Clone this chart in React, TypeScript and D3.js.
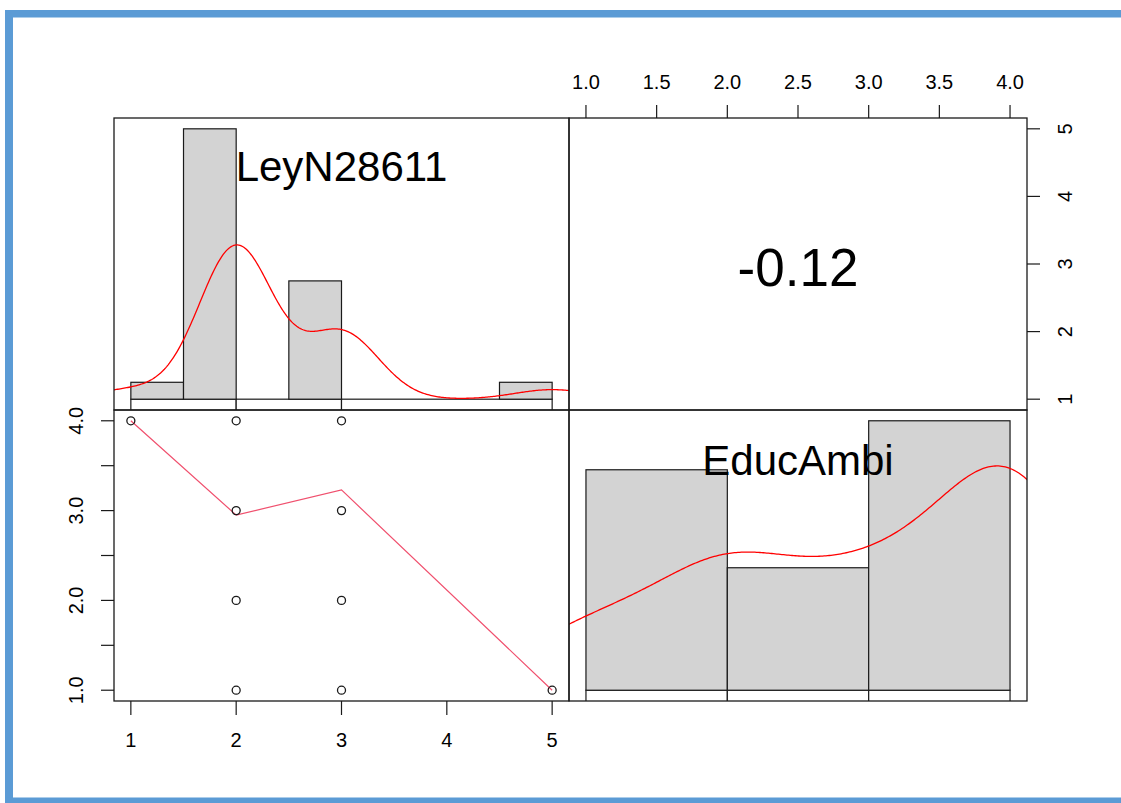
import React from "react";
import * as d3 from "d3";

// ---- data ----
const varNames = ["LeyN28611", "EducAmbi"];
const leyValues = [1, 2, 3, 5];
const leyCounts = [1, 16, 7, 1];
const educValues = [1, 2, 3, 4];
const educCounts = [3, 6, 5, 11];
const leyBreaks = [1, 1.5, 2, 2.5, 3, 3.5, 4, 4.5, 5];
const educBreaks = [1, 2, 3, 4];
const leyStripBreaks = [1, 2, 3, 5];
const educStripBreaks = [1, 2, 3, 4];
const scatterX = [1, 2, 3, 2, 3, 2, 3, 2, 3, 5];
const scatterY = [4, 4, 4, 3, 3, 2, 2, 1, 1, 1];
const smoothX = [1, 2, 3, 5];
const smoothY = [4.0, 2.95, 3.23, 1.0];
const corrLabel = "-0.12";
const leyTicks = [1, 2, 3, 4, 5];
const educTicks = [1, 1.5, 2, 2.5, 3, 3.5, 4];
const educLabelTicks = [1, 2, 3, 4];

// ---- layout ----
const W = 1121, H = 803;
const C1 = [114, 569], C2 = [569, 1027];
const R1 = [118, 410], R2 = [410, 701];
const FONT = "Liberation Sans, Arial, Helvetica, sans-serif";
const INK = "#1a1a1a";

function expand(vals: number[], counts: number[]) {
  const out: number[] = [];
  vals.forEach((v, i) => { for (let k = 0; k < counts[i]; k++) out.push(v); });
  return out;
}
function ext(lo: number, hi: number) {
  const d = (hi - lo) * 0.04;
  return [lo - d, hi + d];
}
function histo(obs: number[], breaks: number[]) {
  const n = obs.length;
  const res = [] as { x0: number; x1: number; dens: number }[];
  for (let i = 0; i < breaks.length - 1; i++) {
    const a = breaks[i], b = breaks[i + 1];
    const c = obs.filter(v => (i === 0 ? v >= a : v > a) && v <= b).length;
    res.push({ x0: a, x1: b, dens: c / (n * (b - a)) });
  }
  return res;
}
function kde(obs: number[]) {
  const n = obs.length;
  const sd = d3.deviation(obs) as number;
  const sorted = obs.slice().sort((a, b) => a - b);
  const iqr = (d3.quantileSorted(sorted, 0.75) as number) - (d3.quantileSorted(sorted, 0.25) as number);
  const bw = 0.9 * Math.min(sd, iqr / 1.34) * Math.pow(n, -0.2);
  const lo = (d3.min(obs) as number) - 3 * bw, hi = (d3.max(obs) as number) + 3 * bw;
  const pts: [number, number][] = [];
  for (let i = 0; i < 512; i++) {
    const x = lo + (hi - lo) * i / 511;
    let s = 0;
    for (const v of obs) { const z = (x - v) / bw; s += Math.exp(-0.5 * z * z); }
    pts.push([x, s / (n * bw * Math.sqrt(2 * Math.PI))]);
  }
  return pts;
}

const leyObs = expand(leyValues, leyCounts);
const educObs = expand(educValues, educCounts);

const xLey = d3.scaleLinear().domain(ext(1, 5)).range(C1);
const xEduc = d3.scaleLinear().domain(ext(1, 4)).range(C2);
const yLey = d3.scaleLinear().domain(ext(1, 5)).range([R1[1], R1[0]]);
const yEduc = d3.scaleLinear().domain(ext(1, 4)).range([R2[1], R2[0]]);

function DiagPanel({ id, x, rows, obs, breaks, strip, name, labelDy }: any) {
  const bins = histo(obs, breaks);
  const maxD = d3.max(bins, b => b.dens) as number;
  const y = d3.scaleLinear().domain(ext(0, maxD)).range([rows[1], rows[0]]);
  const dens = kde(obs);
  const line = d3.line<[number, number]>().x(d => x(d[0])).y(d => y(d[1]));
  const [xa, xb] = x.range();
  return (
    <g>
      <defs>
        <clipPath id={id}><rect x={xa} y={rows[0]} width={xb - xa} height={rows[1] - rows[0]} /></clipPath>
      </defs>
      <g clipPath={`url(#${id})`}>
        {strip.slice(0, -1).map((s: number, i: number) => (
          <rect key={"s" + i} x={x(s)} y={y(0)} width={x(strip[i + 1]) - x(s)} height={rows[1] - y(0) + 10}
            fill="#ffffff" stroke={INK} strokeWidth={1.2} />
        ))}
        {bins.filter(b => b.dens > 0).map((b, i) => (
          <rect key={"b" + i} x={x(b.x0)} y={y(b.dens)} width={x(b.x1) - x(b.x0)} height={y(0) - y(b.dens)}
            fill="#d3d3d3" stroke={INK} strokeWidth={1.2} />
        ))}
        <path d={line(dens) as string} fill="none" stroke="#ff0000" strokeWidth={1.3} />
      </g>
      <text x={(xa + xb) / 2} y={rows[0] + labelDy} textAnchor="middle" fontFamily={FONT} fontSize={42} fill="#000">{name}</text>
    </g>
  );
}

export default function App() {
  const smoothLine = d3.line<number>().x((d, i) => xLey(smoothX[i])).y(d => yEduc(d));
  const fs = 20;
  return (
    <svg width={W} height={H} style={{ position: "absolute", left: 0, top: 0, background: "#fff" }}>
      <rect x={0} y={0} width={W} height={H} fill="#fff" />
      {/* blue frame */}
      <rect x={5} y={10} width={W - 5} height={7.5} fill="#5b9bd5" />
      <rect x={5} y={10} width={8} height={H - 10} fill="#5b9bd5" />
      <rect x={5} y={797.5} width={W - 5} height={5.5} fill="#5b9bd5" />

      <DiagPanel id="c1" x={xLey} rows={R1} obs={leyObs} breaks={leyBreaks} strip={leyStripBreaks} name={varNames[0]} labelDy={63} />
      <DiagPanel id="c2" x={xEduc} rows={R2} obs={educObs} breaks={educBreaks} strip={educStripBreaks} name={varNames[1]} labelDy={65} />

      {/* correlation */}
      <text x={(C2[0] + C2[1]) / 2} y={286} textAnchor="middle" fontFamily={FONT} fontSize={53} fill="#000">{corrLabel}</text>

      {/* scatter */}
      <path d={smoothLine(smoothY) as string} fill="none" stroke="#f0506e" strokeWidth={1.2} />
      {scatterX.map((v, i) => (
        <circle key={i} cx={xLey(v)} cy={yEduc(scatterY[i])} r={4} fill="none" stroke={INK} strokeWidth={1.3} />
      ))}

      {/* panel borders */}
      {[[C1, R1], [C2, R1], [C1, R2], [C2, R2]].map(([c, r], i) => (
        <rect key={i} x={c[0]} y={r[0]} width={c[1] - c[0]} height={r[1] - r[0]} fill="none" stroke={INK} strokeWidth={1.3} />
      ))}

      {/* top axis (EducAmbi) */}
      {educTicks.map(t => (
        <g key={"t" + t}>
          <line x1={xEduc(t)} x2={xEduc(t)} y1={R1[0]} y2={R1[0] - 13} stroke={INK} strokeWidth={1.2} />
          <text x={xEduc(t)} y={89} textAnchor="middle" fontFamily={FONT} fontSize={fs} fill="#000">{d3.format(".1f")(t)}</text>
        </g>
      ))}
      {/* right axis (LeyN) */}
      {leyTicks.map(t => (
        <g key={"r" + t}>
          <line x1={C2[1]} x2={C2[1] + 13} y1={yLey(t)} y2={yLey(t)} stroke={INK} strokeWidth={1.2} />
          <text transform={`translate(1072,${yLey(t)}) rotate(-90)`} textAnchor="middle" fontFamily={FONT} fontSize={fs} fill="#000">{String(t)}</text>
        </g>
      ))}
      {/* left axis (EducAmbi) */}
      {educTicks.map(t => (
        <line key={"l" + t} x1={C1[0]} x2={C1[0] - 13} y1={yEduc(t)} y2={yEduc(t)} stroke={INK} strokeWidth={1.2} />
      ))}
      {educLabelTicks.map(t => (
        <text key={"ll" + t} transform={`translate(83,${yEduc(t)}) rotate(-90)`} textAnchor="middle" fontFamily={FONT} fontSize={fs} fill="#000">{d3.format(".1f")(t)}</text>
      ))}
      {/* bottom axis (LeyN) */}
      {leyTicks.map(t => (
        <g key={"b" + t}>
          <line x1={xLey(t)} x2={xLey(t)} y1={R2[1]} y2={R2[1] + 14} stroke={INK} strokeWidth={1.2} />
          <text x={xLey(t)} y={747} textAnchor="middle" fontFamily={FONT} fontSize={fs} fill="#000">{String(t)}</text>
        </g>
      ))}
    </svg>
  );
}
